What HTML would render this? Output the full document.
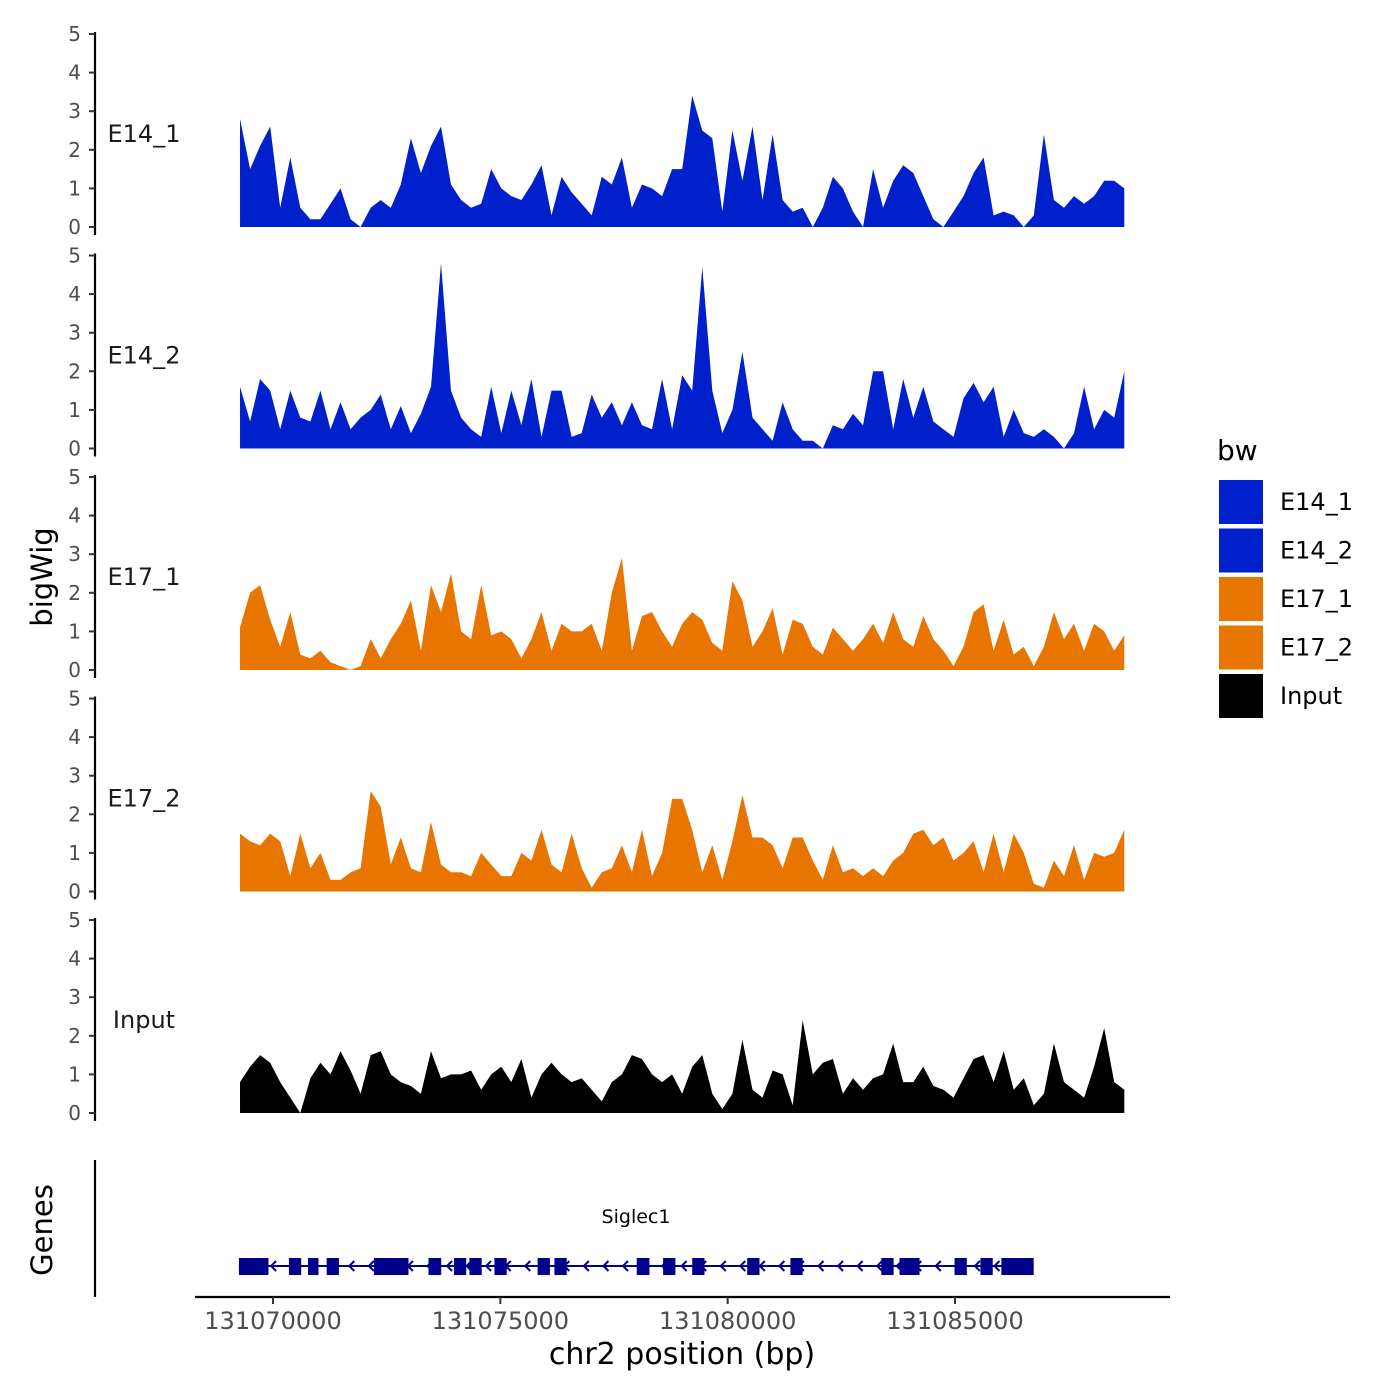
<!DOCTYPE html>
<html><head><meta charset="utf-8"><style>
html,body{margin:0;padding:0;background:#fff}
svg{display:block;font-family:"DejaVu Sans","Liberation Sans",sans-serif}
</style></head><body>
<svg id="chart" width="1400" height="1400" viewBox="0 0 1400 1400" xmlns="http://www.w3.org/2000/svg">
<g id="tracks"></g>
<g id="genes"></g>
<g id="xaxis"></g>
<text x="52" y="577" font-size="29" text-anchor="middle" transform="rotate(-90 52 577)">bigWig</text>
<text x="52" y="1230" font-size="29" text-anchor="middle" transform="rotate(-90 52 1230)">Genes</text>
<text x="682" y="1364" font-size="30" text-anchor="middle">chr2 position (bp)</text>
<g id="legend"></g>
</svg>
<script>
const trackNames = ["E14_1","E14_2","E17_1","E17_2","Input"];
const trackColors = ["#0020CC","#0020CC","#E87500","#E87500","#000000"];
const binStart = 131069275;
const binWidth = 221;
const e14_1 = [2.8,1.5,2.1,2.6,0.5,1.8,0.5,0.2,0.2,0.6,1.0,0.2,0,0.5,0.7,0.5,1.1,2.3,1.4,2.1,2.6,1.1,0.7,0.5,0.6,1.5,1.0,0.8,0.7,1.1,1.6,0.3,1.3,0.9,0.6,0.3,1.3,1.1,1.8,0.5,1.1,1.0,0.8,1.5,1.5,3.4,2.5,2.3,0.4,2.5,1.2,2.6,0.7,2.4,0.7,0.4,0.5,0,0.5,1.3,1.0,0.4,0,1.5,0.5,1.2,1.6,1.4,0.8,0.2,0,0.4,0.8,1.4,1.8,0.3,0.4,0.3,0,0.3,2.4,0.7,0.5,0.8,0.6,0.8,1.2,1.2,1.0];
const e14_2 = [1.6,0.7,1.8,1.5,0.5,1.5,0.8,0.7,1.5,0.5,1.2,0.5,0.8,1.0,1.4,0.5,1.1,0.4,0.9,1.6,4.8,1.5,0.8,0.5,0.3,1.6,0.4,1.5,0.6,1.8,0.3,1.5,1.5,0.3,0.4,1.4,0.8,1.2,0.6,1.2,0.6,0.5,1.8,0.5,1.9,1.5,4.7,1.5,0.4,1.0,2.5,0.8,0.5,0.2,1.2,0.5,0.2,0.2,0,0.6,0.5,0.9,0.6,2.0,2.0,0.5,1.8,0.8,1.6,0.7,0.5,0.3,1.3,1.7,1.2,1.6,0.3,1.0,0.4,0.3,0.5,0.3,0,0.4,1.6,0.5,1.0,0.8,2.0];
const e17_1 = [1.1,2.0,2.2,1.3,0.6,1.5,0.4,0.3,0.5,0.2,0.1,0,0.1,0.8,0.3,0.8,1.2,1.8,0.5,2.2,1.5,2.5,1.0,0.8,2.2,0.9,1.0,0.8,0.3,0.8,1.5,0.5,1.2,1.0,1.0,1.2,0.5,2.0,2.9,0.5,1.4,1.5,1.0,0.6,1.2,1.5,1.3,0.7,0.5,2.3,1.8,0.6,1.0,1.6,0.4,1.3,1.2,0.6,0.4,1.1,0.8,0.5,0.8,1.2,0.7,1.5,0.8,0.6,1.4,0.8,0.5,0.1,0.6,1.5,1.7,0.5,1.3,0.4,0.6,0.1,0.6,1.5,0.8,1.2,0.5,1.2,1.0,0.5,0.9];
const e17_2 = [1.5,1.3,1.2,1.5,1.3,0.4,1.5,0.6,1.0,0.3,0.3,0.5,0.6,2.6,2.2,0.7,1.4,0.6,0.5,1.8,0.7,0.5,0.5,0.4,1.0,0.7,0.4,0.4,1.0,0.8,1.6,0.7,0.5,1.5,0.6,0.1,0.5,0.6,1.2,0.5,1.6,0.4,1.0,2.4,2.4,1.6,0.5,1.2,0.3,1.3,2.5,1.4,1.4,1.2,0.6,1.4,1.4,0.8,0.3,1.2,0.5,0.6,0.4,0.6,0.4,0.8,1.0,1.5,1.6,1.2,1.4,0.8,1.0,1.3,0.5,1.5,0.5,1.5,1.0,0.2,0.1,0.8,0.4,1.2,0.3,1.0,0.9,1.0,1.6];
const inputVals = [0.8,1.2,1.5,1.3,0.8,0.4,0,0.9,1.3,1.0,1.6,1.1,0.5,1.5,1.6,1.0,0.8,0.7,0.5,1.6,0.9,1.0,1.0,1.1,0.6,1.0,1.2,0.8,1.4,0.4,1.0,1.3,1.0,0.8,0.9,0.6,0.3,0.8,1.0,1.5,1.4,1.0,0.8,1.0,0.5,1.2,1.5,0.5,0.1,0.5,1.9,0.6,0.4,1.1,1.0,0.2,2.4,1.0,1.3,1.4,0.5,0.9,0.6,0.9,1.0,1.8,0.8,0.8,1.2,0.7,0.6,0.4,0.9,1.4,1.5,0.8,1.6,0.6,0.9,0.2,0.5,1.8,0.8,0.6,0.4,1.2,2.2,0.8,0.6];
const yTicks = [0,1,2,3,4,5];
const xTicks = [131070000,131075000,131080000,131085000];
const xTickLabels = ["131070000","131075000","131080000","131085000"];
const exonStarts = [131069250,131070350,131070770,131071180,131072220,131073420,131073980,131074320,131074870,131075820,131076190,131078000,131078580,131079220,131080430,131081380,131083380,131083780,131084990,131085560,131086020];
const exonEnds   = [131069900,131070620,131071000,131071450,131072980,131073700,131074250,131074590,131075140,131076090,131076460,131078280,131078850,131079490,131080700,131081650,131083650,131084220,131085260,131085830,131086730];
const geneStart = 131069250, geneEnd = 131086730;

const NS="http://www.w3.org/2000/svg";
function mk(tag,attrs,parent){const e=document.createElementNS(NS,tag);for(const k in attrs)e.setAttribute(k,attrs[k]);parent.appendChild(e);return e;}
const xScale = bp => 273 + (bp-131070000)*(682/15000);
const series=[e14_1,e14_2,e17_1,e17_2,inputVals];
const tracksG=document.getElementById('tracks');
series.forEach((vals,t)=>{
  const y0=227+t*221.5, pu=38.6;
  const yS=v=>y0-v*pu;
  const g=mk('g',{},tracksG);
  
  
  let d='M'+xScale(binStart)+','+y0;
  vals.forEach((v,i)=>{d+=' L'+xScale(binStart+i*binWidth).toFixed(1)+','+yS(v).toFixed(1);});
  d+=' L'+xScale(binStart+(vals.length-1)*binWidth).toFixed(1)+','+y0+' Z';
  const p=mk('path',{d:d,fill:trackColors[t]},g);
  
  
  const ax=mk('line',{x1:95,x2:95,y1:yS(5)-2,y2:y0+8,stroke:'#000','stroke-width':2.2},g);
  
  
  yTicks.forEach(v=>{
    const tk=mk('line',{x1:89,x2:95,y1:yS(v),y2:yS(v),stroke:'#333','stroke-width':2},g);
    
    
    const tl=mk('text',{x:81,y:yS(v)+7,'font-size':20,fill:'#4d4d4d','text-anchor':'end'},g);
    tl.textContent=v;
    
    
  });
  const lab=mk('text',{x:144,y:y0-85,'font-size':24,'text-anchor':'middle',fill:'#1a1a1a'},g);
  lab.textContent=trackNames[t];
  
  
});
// genes
const gg=document.getElementById('genes');
const gl=mk('line',{x1:95,x2:95,y1:1160,y2:1297,stroke:'#000','stroke-width':2.2},gg);


const gline=mk('line',{x1:xScale(geneStart),x2:xScale(geneEnd),y1:1266,y2:1266,stroke:'#00008B','stroke-width':2},gg);


for(let bp=geneStart+300;bp<geneEnd;bp+=430){
  const x=xScale(bp);
  const a=mk('path',{d:`M${x+4},${1261} L${x-1},1266 L${x+4},1271`,fill:'none',stroke:'#00008B','stroke-width':2},gg);
  
  
}
exonStarts.forEach((s,i)=>{
  const x1=xScale(s),x2=xScale(exonEnds[i]);
  const r=mk('rect',{x:x1,y:1258,width:x2-x1,height:17,fill:'#00008B'},gg);
  
  
});
const gname=mk('text',{x:636,y:1223,'font-size':19,'text-anchor':'middle'},gg);
gname.textContent='Siglec1';


// x axis
const xg=document.getElementById('xaxis');
const xl=mk('line',{x1:195,x2:1170,y1:1297,y2:1297,stroke:'#000','stroke-width':2.2},xg);


xTicks.forEach((b,i)=>{
  const x=xScale(b);
  const t=mk('line',{x1:x,x2:x,y1:1297,y2:1304,stroke:'#333','stroke-width':2},xg);
  
  
  const tl=mk('text',{x:x,y:1329,'font-size':24,fill:'#4d4d4d','text-anchor':'middle'},xg);
  tl.textContent=xTickLabels[i];
  
  
});
// legend
const lg=document.getElementById('legend');
const lt=mk('text',{x:1217,y:460,'font-size':28},lg);
lt.textContent='bw';


trackNames.forEach((n,i)=>{
  const y=480+i*48.5;
  const r=mk('rect',{x:1219,y:y,width:44,height:44,fill:trackColors[i]},lg);
  
  
  const t=mk('text',{x:1280,y:y+30,'font-size':24},lg);
  t.textContent=n;
  
  
});
</script>
</body></html>
